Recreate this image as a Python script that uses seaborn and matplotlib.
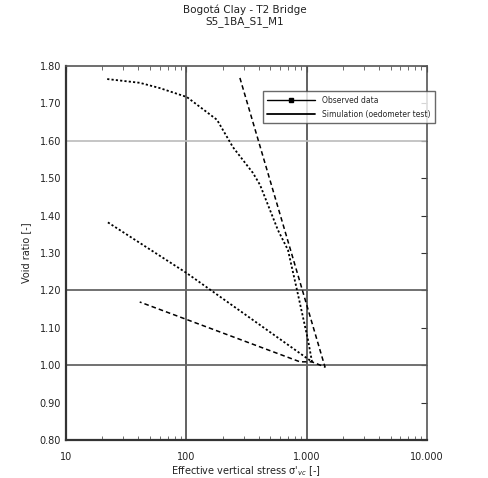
import matplotlib
matplotlib.use("Agg")
import matplotlib.pyplot as plt
import seaborn as sns
import pandas as pd
import numpy as np
from matplotlib.lines import Line2D
from matplotlib.ticker import FixedLocator, FixedFormatter, LogLocator, NullFormatter

# ---- data ----
obs_load_stress = [22, 41, 60, 101, 180, 244, 358, 410, 578, 700, 832, 1028, 1109]
obs_load_e = [1.765, 1.755, 1.741, 1.717, 1.656, 1.583, 1.514, 1.482, 1.361, 1.308, 1.201, 1.067, 1.009]
obs_unload_stress = [1109, 101, 22]
obs_unload_e = [1.009, 1.246, 1.383]

sim_stress = [279, 1422, 1109, 881, 41]
sim_e = [1.768, 0.995, 1.009, 1.009, 1.169]

x_ticks = [10, 100, 1000, 10000]
x_tick_labels = ["10", "100", "1.000", "10.000"]
y_ticks = [0.80, 0.90, 1.00, 1.10, 1.20, 1.30, 1.40, 1.50, 1.60, 1.70, 1.80]
y_tick_labels = ["0.80", "0.90", "1.00", "1.10", "1.20", "1.30", "1.40", "1.50", "1.60", "1.70", "1.80"]
dark_h_grid = [1.00, 1.20]
light_h_grid = [1.60]
v_grid = [100, 1000]

title = "Bogotá Clay - T2 Bridge\nS5_1BA_S1_M1"
legend_labels = ["Observed data", "Simulation (oedometer test)"]

# ---- build tables ----
obs = pd.DataFrame({
    "stress": obs_load_stress + obs_unload_stress,
    "e": obs_load_e + obs_unload_e,
})
sim = pd.DataFrame({"stress": sim_stress, "e": sim_e})

sns.set_theme(style="white")
plt.rcParams["font.family"] = ["DejaVu Sans"]

fig = plt.figure(figsize=(4.89, 4.78), dpi=100)
ax = fig.add_axes([0.135, 0.0795, 0.738, 0.7825])

for g in v_grid:
    ax.axvline(g, color="#555555", lw=1.3, zorder=1)
for g in dark_h_grid:
    ax.axhline(g, color="#666666", lw=1.3, zorder=1)
for g in light_h_grid:
    ax.axhline(g, color="#bbbbbb", lw=1.2, zorder=1)

sns.lineplot(data=obs, x="stress", y="e", sort=False, estimator=None, ax=ax,
             color="black", lw=1.3, linestyle=(0, (1.2, 1.2)), zorder=3)
sns.lineplot(data=sim, x="stress", y="e", sort=False, estimator=None, ax=ax,
             color="black", lw=1.1, linestyle=(0, (3, 2)), zorder=3)

ax.set_xscale("log")
ax.set_xlim(10, 10000)
ax.set_ylim(0.80, 1.80)
ax.xaxis.set_major_locator(FixedLocator(x_ticks))
ax.xaxis.set_major_formatter(FixedFormatter(x_tick_labels))
ax.xaxis.set_minor_locator(LogLocator(base=10, subs=np.arange(2, 10)))
ax.xaxis.set_minor_formatter(NullFormatter())
ax.yaxis.set_major_locator(FixedLocator(y_ticks))
ax.yaxis.set_major_formatter(FixedFormatter(y_tick_labels))

ax.tick_params(axis="both", which="major", direction="in", length=4, width=0.8,
               labelsize=7, top=True, right=True, colors="#333333", labelcolor="#222222")
ax.tick_params(axis="x", which="minor", direction="in", length=3, width=0.6,
               top=True, bottom=True, colors="#555555")
ax.tick_params(axis="x", which="major", pad=9)

for side in ["left", "bottom"]:
    ax.spines[side].set_color("#333333")
    ax.spines[side].set_linewidth(1.6)
for side in ["top", "right"]:
    ax.spines[side].set_color("#555555")
    ax.spines[side].set_linewidth(1.2)

ax.set_xlabel("Effective vertical stress σ'$_{vc}$ [-]", fontsize=7, color="#222222", labelpad=1)
ax.set_ylabel("Void ratio [-]", fontsize=7, color="#222222", labelpad=6)
fig.suptitle(title, fontsize=7.5, color="#222222", y=0.99, linespacing=1.1)

handles = [
    Line2D([0, 0.5, 1], [0, 0, 0], color="black", lw=1.0, marker="s", markersize=2.5,
           linestyle="-"),
    Line2D([0], [0], color="black", lw=1.3, linestyle="-"),
]
leg = ax.legend(handles, legend_labels, loc="upper left", bbox_to_anchor=(0.545, 0.932),
                fontsize=5.5, frameon=True, fancybox=False, edgecolor="#444444",
                handlelength=6.3, borderpad=0.6, labelspacing=0.6, borderaxespad=0)
leg.get_frame().set_linewidth(1.0)
leg.set_zorder(5)

fig.savefig("out.png", dpi=100)
